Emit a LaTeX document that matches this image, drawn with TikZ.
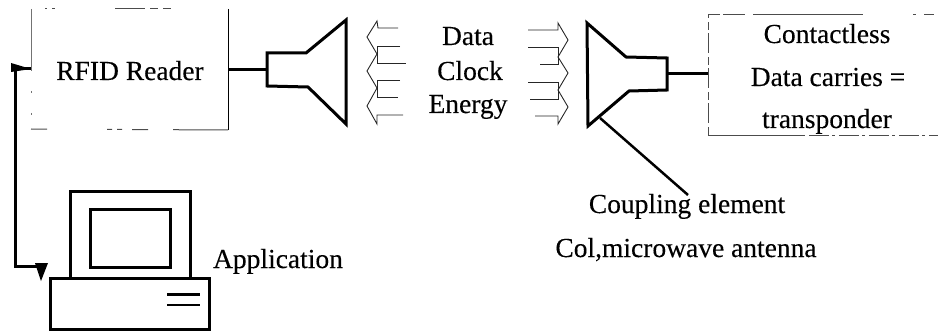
\documentclass[tikz,border=0pt]{standalone}
\usepackage{fontspec}
\setmainfont{Liberation Serif}[FakeBold=0.25]
\begin{document}
\begin{tikzpicture}[x=1pt,y=-1pt,
  txt/.style={anchor=base,inner sep=0pt,font=\fontsize{27.5}{30}\selectfont,text=black},
  hv/.style={line width=3pt,line join=miter,black},
  edgeg/.style={line width=1pt,black!55},
  edged/.style={line width=1pt,black!70},
  sbox/.style={draw=black,line width=3pt,inner sep=0pt,anchor=north west},
  band/.style={line width=.9pt,black!85}]
\useasboundingbox (0,0) rectangle (939,334);
% named anchors
\coordinate (rnw) at (31,9); \coordinate (rne) at (228,9);
\coordinate (rsw) at (31,129); \coordinate (rse) at (228,130);
\coordinate (rw) at (31,69); \coordinate (re) at (228,70);
\coordinate (tnw) at (708,15); \coordinate (tne) at (938,15);
\coordinate (tsw) at (708,135); \coordinate (tse) at (938,135);
\coordinate (tw) at (708,74);
\coordinate (h1) at (267,70); \coordinate (h2) at (667,74);
\coordinate (lead) at (600,118); \coordinate (leadend) at (688,195);
\coordinate (bus) at (15,69); \coordinate (busb) at (15,266); \coordinate (cin) at (41,266);
% reader box
\draw[edgeg] (rnw) -- (rw);
\draw[edgeg,dash pattern=on 2pt off 20pt] (rw) -- (rsw);
\draw[edged,dash pattern=on 2pt off 5pt on 3pt off 60pt on 30pt off 5pt on 8pt off 5pt on 8pt off 100pt] (45,9) -- (rne);
\draw[line width=1pt,black] (rne) -- (rse);
\draw[edged,dash pattern=on 55pt off 25pt on 16pt off 10pt on 5pt off 5pt on 5pt off 60pt] (rse) -- (rsw);
\node[txt] (reader) at (130,80) {RFID Reader};
% transponder box
\draw[edged,dash pattern=on 8pt off 4pt on 20pt off 3pt] (tsw) -- (tnw);
\draw[edged,dash pattern=on 12pt off 3pt on 22pt off 8pt on 110pt off 50pt on 3pt off 8pt on 10pt off 10pt] (tnw) -- (tne);
\draw[edged] (tsw) -- (802,135);
\draw[edged,dash pattern=on 3pt off 4pt on 20pt off 3pt] (802,135) -- (tse);
\node[txt] (c1) at (827,43) {Contactless};
\node[txt] (c2) at (828,86) {Data carries =};
\node[txt] (c3) at (827,128) {transponder};
% horns
\draw[hv] (267,53) -- (306,53) -- (346,20) -- (346,124) -- (308,87) -- (267,86) -- cycle;
\draw[hv] (587,23) -- (626,57) -- (667,58) -- (667,90) -- (629,91) -- (588,126) -- cycle;
\draw[hv] (re) -- (h1);
\draw[hv] (h2) -- (tw);
\draw[line width=2.5pt] (lead) -- (leadend);
% left band
\draw[band] (398,28) -- (378,28) -- (377,21) -- (367,37) -- (377,54) -- (367,71) -- (377,88) -- (367,106) -- (377,124) -- (377,115) -- (403,115);
\draw[band] (400,46) -- (377,46) -- (377,63) -- (406,63);
\draw[band] (400,80) -- (377,80) -- (377,97) -- (398,97);
% right band
\draw[band] (528,30) -- (558,30) -- (558,23) -- (568,40) -- (558,57) -- (568,73) -- (558,90) -- (568,107) -- (558,124) -- (558,116) -- (535,116);
\draw[band] (528,47) -- (558,47) -- (558,64) -- (540,64);
\draw[band] (528,82) -- (558,82) -- (558,99) -- (530,99);
\node[txt] (data) at (468,45) {Data};
\node[txt] (clock) at (470,80) {Clock};
\node[txt] (energy) at (468,113) {Energy};
% computer
\node[sbox,minimum width=120pt,minimum height=87pt] (mon) at (69,190) {};
\node[sbox,minimum width=80pt,minimum height=58pt] (scr) at (89,208) {};
\node[sbox,fill=white,minimum width=159pt,minimum height=51pt] (base) at (49,277) {};
\draw[line width=3pt] (167,294) -- (200,294);
\draw[line width=2pt] (167,305) -- (200,305);
\node[txt] (app) at (278,268) {Application};
% bus with heads
\draw[hv] (rw) -- (bus) -- (busb) -- (cin);
\fill (11,63) -- (31,69) -- (11,72) -- cycle;
\fill (35,263) -- (48,263) -- (41,281) -- cycle;
\node[txt] (cpl) at (687,213) {Coupling element};
\node[txt] (col) at (686,257) {Col,microwave antenna};
\end{tikzpicture}
\end{document}
